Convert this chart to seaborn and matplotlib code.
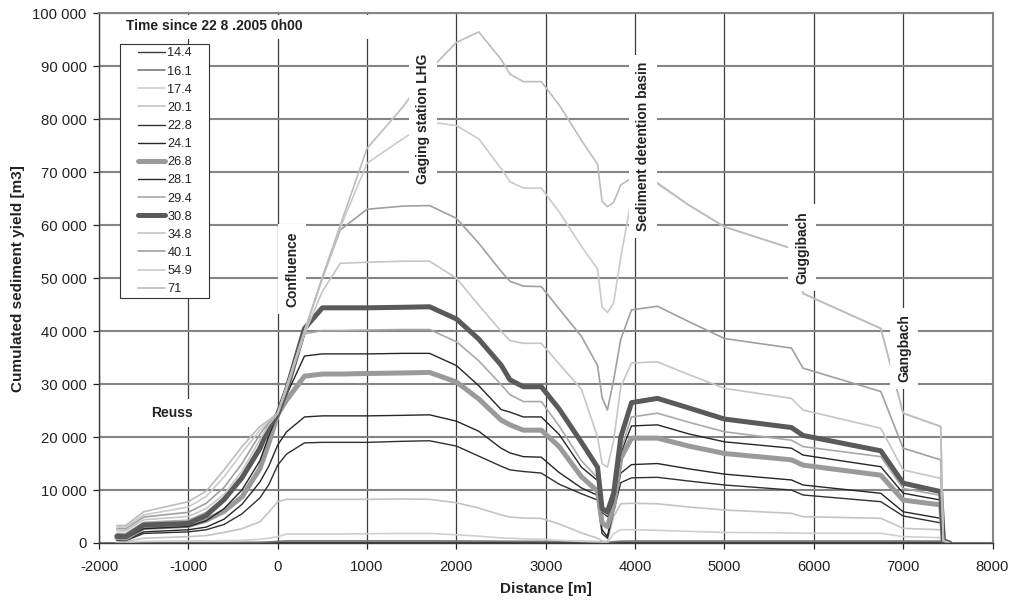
import numpy as np
import pandas as pd
import matplotlib
matplotlib.use("Agg")
import matplotlib.pyplot as plt
import seaborn as sns
from matplotlib.ticker import FuncFormatter, MultipleLocator
from matplotlib.legend_handler import HandlerLine2D
from matplotlib.patches import Rectangle

# ---------------- data ----------------
distance = [-1800, -1700, -1500, -1000, -800, -600, -400, -200, -100, 0,
            100, 300, 500, 700, 1000, 1400, 1700, 2000, 2250, 2500,
            2600, 2750, 2950, 3150, 3400, 3580, 3630, 3690, 3760, 3840,
            3960, 4250, 4600, 5000, 5750, 5880, 6750, 7000, 7420, 7450, 7520]

times = ["14.4", "16.1", "17.4", "20.1", "22.8", "24.1", "26.8", "28.1",
         "29.4", "30.8", "34.8", "40.1", "54.9", "71"]

y_14_4 = [0, 0, 0, 0, 0, 0, 20, 40, 60, 100,
          150, 150, 150, 150, 150, 150, 150, 150, 150, 150,
          150, 150, 150, 150, 140, 120, 100, 80, 120, 150,
          150, 150, 150, 150, 150, 150, 150, 150, 150, 100, 0]
y_16_1 = [0, 0, 50, 80, 100, 100, 120, 150, 200, 300,
          400, 400, 400, 400, 400, 400, 400, 380, 360, 340,
          330, 320, 310, 300, 280, 250, 150, 100, 250, 350,
          380, 380, 380, 380, 380, 380, 380, 370, 360, 150, 0]
y_17_4 = [100, 100, 300, 400, 400, 450, 500, 700, 900, 1200,
          1700, 1700, 1700, 1700, 1750, 1800, 1800, 1550, 1300, 950,
          900, 800, 700, 500, 300, 200, 100, 50, 1800, 2500,
          2500, 2400, 2200, 2000, 1900, 1850, 1830, 1200, 1000, 200, 0]
y_20_1 = [300, 250, 900, 1200, 1400, 2000, 2700, 4000, 5800, 7800,
          8250, 8250, 8250, 8250, 8250, 8300, 8250, 7600, 6600, 5300,
          4900, 4700, 4650, 3600, 1900, 900, 400, 250, 5000, 7400,
          7500, 7400, 6800, 6230, 5600, 4970, 4660, 2770, 2500, 300, 0]
y_22_8 = [500, 450, 1800, 2100, 2500, 3500, 5500, 8500, 11000, 14700,
          16800, 18900, 19000, 19000, 19000, 19200, 19300, 18300, 16400, 14500,
          13800, 13500, 13200, 11100, 9300, 8100, 1800, 900, 6000, 11400,
          12300, 12400, 11700, 10950, 10000, 9060, 7800, 5100, 3800, 400, 0]
y_24_1 = [700, 600, 2100, 2500, 3000, 4500, 7300, 11500, 14500, 18500,
          21000, 23800, 24000, 24000, 24000, 24100, 24200, 23000, 21100, 17900,
          17000, 16300, 16200, 13300, 10400, 9000, 2500, 1200, 7000, 13200,
          14800, 15000, 14000, 13000, 11900, 10950, 9380, 5900, 4660, 400, 0]
y_26_8 = [1000, 900, 2900, 3300, 4300, 6000, 8700, 14000, 18800, 24300,
          27000, 31500, 31900, 31900, 32000, 32100, 32200, 30400, 27200, 23200,
          22300, 21300, 21300, 18200, 12500, 9800, 3800, 3100, 7000, 16000,
          19800, 19800, 18300, 16900, 15700, 14700, 12800, 8100, 7200, 400, 0]
y_28_1 = [1000, 900, 2700, 3100, 4200, 6500, 10000, 15500, 20200, 24300,
          28000, 35300, 35700, 35700, 35700, 35800, 35800, 33500, 29700, 25200,
          24700, 23800, 23800, 20500, 14300, 11800, 5800, 5000, 8000, 17000,
          22100, 22300, 20600, 19100, 17900, 16600, 14400, 9400, 8100, 400, 0]
y_29_4 = [1800, 1800, 3900, 4300, 5800, 8600, 12800, 18500, 21800, 24300,
          28500, 39500, 40100, 40100, 40200, 40300, 40300, 38000, 34400, 29900,
          28000, 26700, 26700, 22100, 15500, 12300, 6000, 5300, 8500, 17500,
          23800, 24500, 22800, 21000, 19400, 18200, 16300, 10300, 9000, 400, 0]
y_30_8 = [1300, 1200, 3400, 3700, 5200, 8200, 12300, 17800, 21800, 24300,
          29000, 40500, 44400, 44400, 44400, 44500, 44600, 42300, 38500, 33600,
          30800, 29500, 29500, 25300, 19000, 14300, 6500, 5900, 9400, 20000,
          26500, 27300, 25500, 23400, 21800, 20300, 17400, 11300, 9700, 400, 0]
y_34_8 = [2300, 2300, 4400, 5000, 6500, 9200, 13500, 19500, 22300, 24400,
          29000, 39500, 47500, 52800, 53000, 53200, 53200, 50000, 44900, 40000,
          38200, 37700, 37700, 33800, 29000, 20000, 15000, 14300, 19400, 29500,
          34000, 34200, 31800, 29200, 27300, 25100, 21650, 13800, 12200, 400, 0]
y_40_1 = [2700, 2700, 4900, 5800, 7500, 10500, 15000, 20500, 22800, 24500,
          29500, 40000, 50000, 59100, 63000, 63600, 63700, 61300, 56600, 51300,
          49400, 48500, 48400, 44200, 39000, 33500, 27500, 25100, 30800, 38500,
          44000, 44700, 41800, 38600, 36800, 33000, 28600, 17900, 15700, 400, 0]
y_54_9 = [3000, 3000, 5300, 6800, 8800, 12500, 17000, 21300, 23000, 24500,
          29500, 40000, 50000, 59500, 71700, 76300, 79500, 78800, 76300, 70700,
          68200, 67000, 67000, 62500, 56000, 51700, 44600, 43500, 45300, 54000,
          65000, 67800, 63800, 59700, 55600, 47100, 40500, 24500, 22000, 400, 0]
y_71 = [3300, 3300, 5900, 7800, 9800, 13800, 18200, 22000, 23200, 24500,
        29500, 40000, 50200, 60000, 74500, 82300, 89300, 94500, 96500, 91300,
        88500, 87100, 87100, 82700, 76000, 71500, 64500, 63500, 64300, 67600,
        68900, 68000, 63800, 59700, 55600, 47100, 40500, 24500, 22000, 400, 0]

series_values = [y_14_4, y_16_1, y_17_4, y_20_1, y_22_8, y_24_1, y_26_8, y_28_1,
                 y_29_4, y_30_8, y_34_8, y_40_1, y_54_9, y_71]

colors = ["#3a3a3a", "#7a7a7a", "#cfcfcf", "#c4c4c4", "#303030", "#262626",
          "#9a9a9a", "#262626", "#a9a9a9", "#5a5a5a", "#c6c6c6", "#a0a0a0",
          "#cbcbcb", "#bcbcbc"]
widths = [1.0, 1.2, 1.2, 1.2, 1.0, 1.0, 3.6, 1.0, 1.2, 3.6, 1.2, 1.2, 1.2, 1.2]

df = pd.concat([pd.DataFrame({"Distance": distance, "Yield": vals, "Time": t})
                for t, vals in zip(times, series_values)], ignore_index=True)

# ---------------- figure ----------------
sns.set_theme(style="white")
plt.rcParams["font.family"] = ["Liberation Sans", "DejaVu Sans"]
plt.rcParams["axes.unicode_minus"] = False

fig = plt.figure(figsize=(10.13, 6.05), dpi=100)
ax = fig.add_axes([99 / 1013, 1 - 543 / 605, (992.5 - 99) / 1013, (543 - 13.3) / 605])

sns.lineplot(data=df, x="Distance", y="Yield", hue="Time", size="Time",
             hue_order=times, size_order=times,
             palette=dict(zip(times, colors)), sizes=dict(zip(times, widths)),
             estimator=None, sort=False, legend=False, ax=ax)
for ln in ax.lines:
    ln.set_solid_joinstyle("round")

ax.set_xlim(-2000, 8000)
ax.set_ylim(0, 100000)
ax.xaxis.set_major_locator(MultipleLocator(1000))
ax.yaxis.set_major_locator(MultipleLocator(10000))
ax.yaxis.set_major_formatter(FuncFormatter(lambda v, p: f"{int(v):,}".replace(",", " ")))

ax.xaxis.grid(True, color="#3c3c3c", lw=0.9)
ax.yaxis.grid(True, color="#858585", lw=1.5)
ax.set_axisbelow(True)

for s in ["left", "bottom"]:
    ax.spines[s].set_color("#3c3c3c")
    ax.spines[s].set_linewidth(1.0)
for s in ["top", "right"]:
    ax.spines[s].set_color("#858585")
    ax.spines[s].set_linewidth(1.5)

ax.tick_params(axis="both", which="major", labelsize=10.7, colors="#222222",
               length=4, width=0.9, direction="out", bottom=True, left=True)
ax.tick_params(axis="y", pad=5)
ax.tick_params(axis="x", pad=8)

ax.set_xlabel("Distance [m]", fontsize=11, fontweight="bold", color="#222222", labelpad=6)
ax.set_ylabel("Cumulated sediment yield [m3]", fontsize=11, fontweight="bold",
              color="#222222", labelpad=5)

# title box
ax.add_patch(Rectangle((0.004, 0.9515), 0.33, 0.045, transform=ax.transAxes,
                       facecolor="white", edgecolor="none", zorder=1.5))
ax.text(0.1293, 0.976, "Time since 22 8 .2005 0h00", transform=ax.transAxes,
        ha="center", va="center", fontsize=10, fontweight="bold",
        color="#222222", zorder=7)

# annotations
box = dict(boxstyle="square,pad=0.5", fc="white", ec="none")
ax.text(-1183, 24540, "Reuss", ha="center", va="center", fontsize=10,
        fontweight="bold", color="#222222", bbox=box, zorder=6)
for xx, yy, txt in [(160, 51700, "Confluence"),
                    (1623, 80150, "Gaging station LHG"),
                    (4092, 74860, "Sediment detention basin"),
                    (5872, 55790, "Guggibach"),
                    (7014, 36720, "Gangbach")]:
    ax.text(xx, yy, txt, rotation=90, ha="center", va="center", fontsize=10,
            fontweight="bold", color="#222222", bbox=box, zorder=6)

# legend
handles = ax.lines[:len(times)]
leg = ax.legend(handles, times, loc="upper left",
                bbox_to_anchor=(0.0235, 0.5, 0.0996, 0.4415), mode="expand",
                borderaxespad=0, fontsize=9.2, frameon=True, fancybox=False,
                edgecolor="#333333", facecolor="white", framealpha=1,
                borderpad=0.25, labelspacing=0.48, handlelength=3.3,
                handletextpad=0.15,
                handler_map={ln: HandlerLine2D(xpad=1.16) for ln in handles})
leg.get_frame().set_linewidth(0.8)
leg.set_zorder(8)
for t in leg.get_texts():
    t.set_color("#222222")

fig.savefig("out.png", dpi=100)
